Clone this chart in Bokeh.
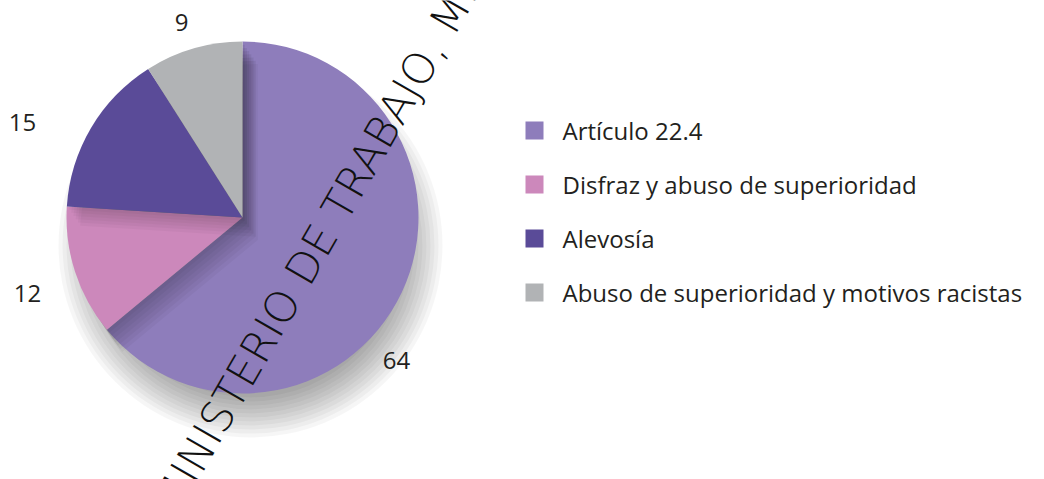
import numpy as np
from bokeh.plotting import figure
from bokeh.models import Range1d
from bokeh.embed import file_html
from bokeh.resources import INLINE
from bokeh.core.properties import value

# ---------------- data ----------------
categories = ["Artículo 22.4", "Disfraz y abuso de superioridad", "Alevosía",
              "Abuso de superioridad y motivos racistas"]
values = [64, 12, 15, 9]
value_labels = ["64", "12", "15", "9"]
colors = ["#8E7DBB", "#CC88BB", "#5A4B98", "#B1B3B5"]
watermark = "MINISTERIO DE TRABAJO, MIGRACIONES Y SEGURIDAD SOCIAL"

# ---------------- layout ----------------
W, H = 1044, 479
IMG_H = 479
def sy(y):  # screen y -> data y
    return IMG_H - y

p = figure(width=W, height=H, x_range=Range1d(0, W), y_range=Range1d(IMG_H - H, IMG_H),
           output_backend="svg", toolbar_location=None, min_border=0)
p.axis.visible = False
p.grid.visible = False
p.outline_line_color = None
p.background_fill_color = "white"

cx, cy, R = 242, sy(217), 176
TXT = "#231F20"
FONT = value("Open Sans")

vals = np.array(values, dtype=float)
fr = vals / vals.sum()
starts = np.pi / 2 - 2 * np.pi * np.concatenate([[0], np.cumsum(fr)[:-1]])
ends = starts - 2 * np.pi * fr

# outer drop shadow (soft), offset right-down
for k in range(11):
    p.circle(x=cx + 8, y=cy - 28, radius=R - 24 + k * 4, fill_color="#000000",
             fill_alpha=0.034, line_color=None)

def shadow(i_from, i_to, alpha=0.035, n=7):
    s = starts[i_from]
    e = ends[i_to]
    for k in range(1, n + 1):
        d = k * 4
        p.wedge(x=cx + 0.55 * d, y=cy - 0.8 * d, radius=R, start_angle=s, end_angle=e,
                direction="clock", fill_color="#000000", fill_alpha=alpha, line_color=None)

# main slice
p.wedge(x=cx, y=cy, radius=R, start_angle=starts[0], end_angle=ends[0], direction="clock",
        fill_color=colors[0], line_color=None)
shadow(1, 3)
p.wedge(x=cx, y=cy, radius=R, start_angle=starts[1], end_angle=ends[1], direction="clock",
        fill_color=colors[1], line_color=None)
shadow(2, 3, alpha=0.03, n=6)
for i in (2, 3):
    p.wedge(x=cx, y=cy, radius=R, start_angle=starts[i], end_angle=ends[i], direction="clock",
            fill_color=colors[i], line_color=None)

# value labels (anchor positions in screen px)
label_pos = [(396, 360), (27, 293), (22, 122), (181, 22)]
p.text(x=[q[0] for q in label_pos], y=[sy(q[1]) for q in label_pos], text=value_labels,
       text_font=FONT, text_font_size="24px", text_color=TXT,
       text_align="center", text_baseline="middle")

# legend
lx, ly0, dy = 534, 130, 54
ys = [sy(ly0 + i * dy) for i in range(len(categories))]
p.rect(x=[lx] * len(categories), y=ys, width=18, height=18, fill_color=colors, line_color=None)
p.text(x=[lx + 28] * len(categories), y=ys, text=categories, text_font=FONT,
       text_font_size="24px", text_color=TXT, text_align="left", text_baseline="middle")

# diagonal watermark
p.text(x=[163], y=[sy(510)], text=[watermark], angle=np.deg2rad(60),
       text_font=value("DejaVu Sans Light"), text_font_size="43px", text_color="#111111",
       text_align="left", text_baseline="middle")

open("out.html", "w").write(file_html(p, INLINE))
